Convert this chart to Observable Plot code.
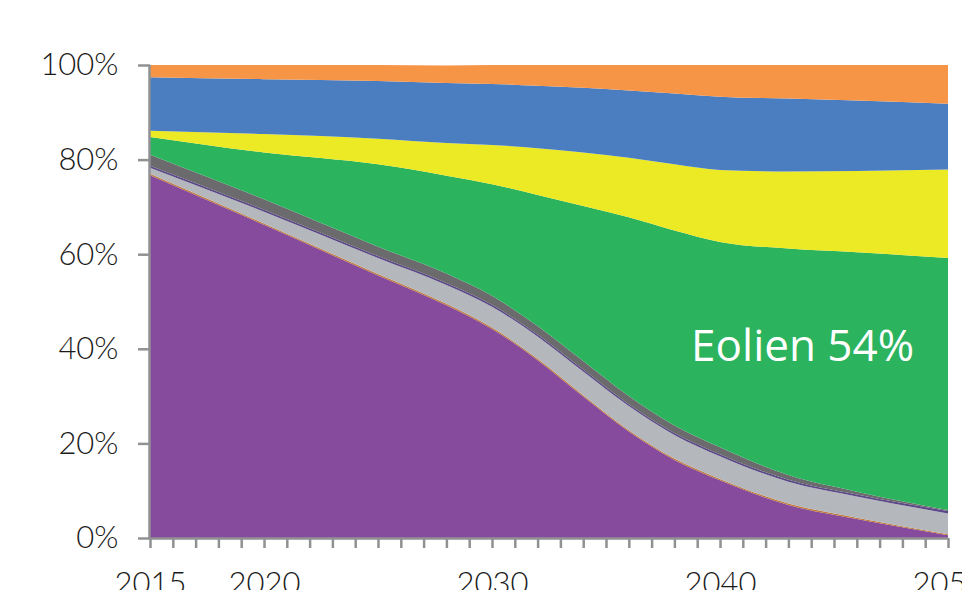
<!DOCTYPE html>
<html>
<head>
<meta charset="utf-8">
<script src="https://cdn.jsdelivr.net/npm/d3@7"></script>
<script src="https://cdn.jsdelivr.net/npm/@observablehq/plot@0.6"></script>
<style>
  html, body { margin: 0; padding: 0; background: #fff; overflow: hidden; }
  #chart svg { display: block; }
</style>
</head>
<body>
<div id="chart"></div>
<script>
// Years sampled
const years = [2015, 2020, 2025, 2028, 2030, 2032, 2034, 2036, 2038, 2040, 2043, 2046, 2050];

// Shares (%), bottom to top
const nucleaire = [76.7, 66.2, 55.5, 49.2, 44.2, 37.6, 29.9, 22.5, 16.5, 12.2, 7.0, 4.0, 0.6];
const charbon   = [0.3, 0.3, 0.3, 0.3, 0.3, 0.3, 0.3, 0.3, 0.3, 0.3, 0.3, 0.3, 0.2];
const gaz       = [1.3, 2.5, 3.4, 4.0, 4.4, 4.7, 5.0, 5.1, 5.0, 4.8, 4.6, 4.5, 4.4];
const fioul     = [0.4, 0.4, 0.4, 0.4, 0.4, 0.4, 0.4, 0.4, 0.4, 0.4, 0.4, 0.4, 0.5];
const autresTh  = [2.3, 2.2, 2.0, 2.0, 1.9, 1.8, 1.8, 1.7, 1.6, 1.5, 1.0, 0.6, 0.2];
const eolien    = [3.8, 9.9, 17.4, 20.7, 23.6, 27.7, 32.8, 37.8, 41.2, 43.4, 47.9, 50.6, 53.3];
const solaire   = [1.3, 3.9, 5.4, 6.9, 8.3, 9.9, 11.3, 12.6, 14.0, 15.2, 16.3, 17.2, 18.7];
const hydraulique = [11.3, 11.6, 12.2, 12.7, 12.9, 13.2, 13.7, 14.2, 15.0, 15.5, 15.4, 14.9, 13.9];
const autres    = [2.6, 3.0, 3.4, 3.7, 4.0, 4.4, 4.8, 5.4, 6.0, 6.7, 7.1, 7.5, 8.2];

const seriesNames = ["Nucléaire", "Charbon", "Gaz", "Fioul", "Autres thermiques", "Eolien", "Solaire", "Hydraulique", "Autres"];
const seriesValues = [nucleaire, charbon, gaz, fioul, autresTh, eolien, solaire, hydraulique, autres];
const seriesColors = ["#874b9d", "#c07a3c", "#b4b7bb", "#5a4888", "#6b6b6e", "#2bb35e", "#ece925", "#4a7ec0", "#f79547"];

// Axis ticks
const yTicks = [0, 20, 40, 60, 80, 100];
const xMinorTicks = d3.range(2015, 2051);
const xLabelTicks = [2015, 2020, 2030, 2040, 2050];

// Annotation
const annotX = [2043.6];
const annotY = [40.6];
const annotText = ["Eolien 54%"];

const table = [];
seriesNames.forEach((name, i) => {
  years.forEach((yr, j) => table.push({year: yr, serie: name, value: seriesValues[i][j]}));
});

const axisGray = "#8f9193";

const chart = Plot.plot({
  width: 962,
  height: 590,
  marginLeft: 150,
  marginRight: 14,
  marginTop: 65,
  marginBottom: 52,
  style: {background: "#fff", overflow: "visible"},
  x: {domain: [2015, 2050], axis: null},
  y: {domain: [0, 100], axis: null},
  color: {domain: seriesNames, range: seriesColors},
  marks: [
    Plot.areaY(table, Plot.stackY({
      x: "year", y: "value", z: "serie", fill: "serie",
      order: seriesNames, curve: "monotone-x"
    })),
    Plot.ruleX([2015], {stroke: axisGray, strokeWidth: 2.5, dx: -1}),
    Plot.ruleY([0], {stroke: axisGray, strokeWidth: 2.5}),
    Plot.axisY({
      ticks: yTicks, tickFormat: d => d + "%", tickSize: 12, tickPadding: 20,
      stroke: axisGray, strokeWidth: 2.5, label: null,
      fontSize: 31, fontFamily: "Lato", fontWeight: 300, fill: "#1a1a1a"
    }),
    Plot.axisX({
      ticks: xMinorTicks, tickFormat: () => "", tickSize: 10,
      stroke: axisGray, strokeWidth: 2.5, label: null
    }),
    Plot.axisX({
      ticks: xLabelTicks, tickFormat: d => String(d), tickSize: 0, tickPadding: 33,
      label: null, fontSize: 31, fontFamily: "Lato", fontWeight: 300, fill: "#1a1a1a"
    }),
    Plot.text(annotText, {
      x: (d, i) => annotX[i], y: (d, i) => annotY[i], text: d => d,
      fill: "white", fontSize: 44, fontFamily: "Open Sans", fontWeight: 400
    })
  ]
});

document.getElementById("chart").appendChild(chart);
</script>
</body>
</html>
